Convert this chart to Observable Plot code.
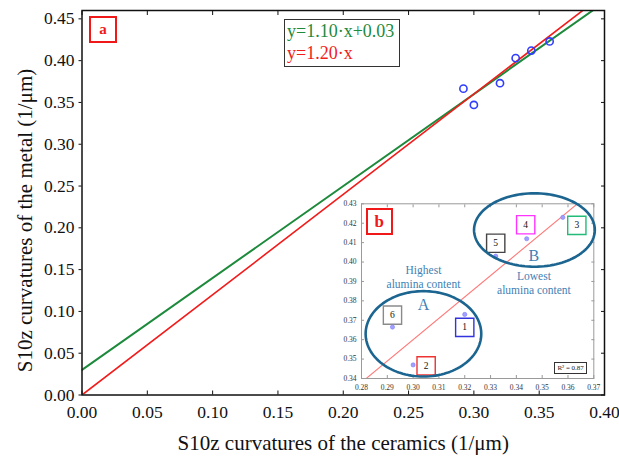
<!DOCTYPE html>
<html><head><meta charset="utf-8">
<script src="https://cdn.jsdelivr.net/npm/d3@7"></script>
<script src="https://cdn.jsdelivr.net/npm/@observablehq/plot@0.6"></script>
<style>
body{margin:0;background:#fff;}
#wrap{position:relative;width:619px;height:456px;font-family:"Liberation Serif","Times New Roman",serif;overflow:hidden;}
.ov{position:absolute;box-sizing:border-box;}
#inset{position:absolute;left:330px;top:190px;}
</style></head><body><div id="wrap"></div>
<script>
// ---- data ----
const sampleIds = ["6", "2", "1", "5", "4", "3"];
const ceramics  = [0.292, 0.300, 0.320, 0.332, 0.344, 0.358];
const metal     = [0.3665, 0.347, 0.373, 0.403, 0.412, 0.423];

const fitNames      = ["y=1.10·x+0.03", "y=1.20·x"];
const fitSlopes     = [1.10, 1.20];
const fitIntercepts = [0.03, 0.00];
const fitColors     = ["#1d8a3c", "#f21c1c"];

const xTicks = [0, 0.05, 0.10, 0.15, 0.20, 0.25, 0.30, 0.35, 0.40];
const yTicks = [0, 0.05, 0.10, 0.15, 0.20, 0.25, 0.30, 0.35, 0.40, 0.45];
const insetXTicks = [0.28, 0.29, 0.30, 0.31, 0.32, 0.33, 0.34, 0.35, 0.36, 0.37];
const insetYTicks = [0.34, 0.35, 0.36, 0.37, 0.38, 0.39, 0.40, 0.41, 0.42, 0.43];

const groupNames = ["A", "B"];
const groupCx = [0.304, 0.347];
const groupCy = [0.363, 0.4165];
const groupRx = [0.0224, 0.0234];
const groupRy = [0.0220, 0.0189];

const xLabel = "S10z curvatures of the ceramics (1/μm)";
const yLabel = "S10z curvatures of the metal (1/μm)";
const rSquared = "R² = 0.87";

// ---- derived tables ----
const points = sampleIds.map((id, i) => ({id, x: ceramics[i], y: metal[i]}));
const fmt2 = d3.format(".2f");
const serif = "'Liberation Serif', 'Times New Roman', serif";

const wrap = document.getElementById("wrap");

// ---- main chart ----
const fitMarks = fitNames.map((n, i) =>
  Plot.line([0, 0.40].map(x => ({x, y: fitSlopes[i] * x + fitIntercepts[i]})),
    {x: "x", y: "y", stroke: fitColors[i], strokeWidth: i === 0 ? 2 : 1.6, clip: true}));

const main = Plot.plot({
  width: 619, height: 456,
  marginLeft: 81.5, marginRight: 15, marginTop: 10, marginBottom: 61.5,
  style: {fontFamily: serif, fontSize: "17.5px", color: "#111", background: "white"},
  x: {domain: [0, 0.40]},
  y: {domain: [0, 0.46]},
  marks: [
    ...fitMarks,
    Plot.dot(points, {x: "x", y: "y", r: 3.6, stroke: "#2f3dff", strokeWidth: 1.6}),
    Plot.axisX({anchor: "bottom", ticks: xTicks, tickFormat: fmt2, tickSize: -4, tickPadding: 15, label: null, fontSize: 17.5}),
    Plot.axisX({anchor: "top", ticks: xTicks, tickFormat: () => "", tickSize: -4, label: null}),
    Plot.axisY({anchor: "left", ticks: yTicks, tickFormat: fmt2, tickSize: 3, tickPadding: 4.5, label: null, fontSize: 17.5}),
    Plot.axisY({anchor: "right", ticks: yTicks, tickFormat: () => "", tickSize: -4, label: null}),
    Plot.frame({stroke: "#111", strokeWidth: 1.5}),
    Plot.text([xLabel], {text: d => d, frameAnchor: "bottom", textAnchor: "middle", lineAnchor: "middle", dy: 48.5, fontSize: 21, fill: "#111"}),
    Plot.text([yLabel], {text: d => d, frameAnchor: "left", textAnchor: "middle", lineAnchor: "middle", rotate: -90, dx: -56.5, dy: 17.75, fontSize: 21, fill: "#111"})
  ]
});
wrap.appendChild(main);

// ---- inset chart ----
const ellipsePts = groupNames.flatMap((g, i) =>
  d3.range(0, 361, 3).map(a => ({
    g,
    x: groupCx[i] + groupRx[i] * Math.cos(a * Math.PI / 180),
    y: groupCy[i] + groupRy[i] * Math.sin(a * Math.PI / 180)
  })));

const boxColors = ["#8a8a8a", "#ee3333", "#3333dd", "#444444", "#ff33ff", "#22bb77"];
const boxDx = [0, 13, 0, 0, -1, 14];
const boxDy = [-12, 1, 13, -13, -14, 8];
const boxMarks = points.flatMap((p, i) => [
  Plot.dot([p], {x: "x", y: "y", symbol: "square", r: 10.3, fill: "white", stroke: boxColors[i], strokeWidth: 1.4, dx: boxDx[i], dy: boxDy[i]}),
  Plot.text([p], {x: "x", y: "y", text: "id", fontSize: 9.5, fill: "#111", dx: boxDx[i], dy: boxDy[i]})
]);

const noteText = ["Highest\nalumina content", "A", "B", "Lowest\nalumina content"];
const noteX = [0.304, 0.304, 0.3468, 0.3468];
const noteY = [0.3927, 0.3784, 0.4041, 0.3896];
const noteSize = [11.5, 16, 16, 11.5];
const notes = noteText.map((t, i) => ({t, x: noteX[i], y: noteY[i], s: noteSize[i]}));

const insetFitX = [0.28, 0.37];
const inset = Plot.plot({
  width: 280, height: 205,
  marginLeft: 31, marginRight: 16.7, marginTop: 13.3, marginBottom: 17,
  style: {fontFamily: serif, fontSize: "8px", color: "#333", background: "transparent"},
  x: {domain: [0.28, 0.37]},
  y: {domain: [0.34, 0.43]},
  marks: [
    Plot.frame({fill: "white", stroke: null}),
    Plot.line(insetFitX.map(x => ({x, y: fitSlopes[0] * x + fitIntercepts[0]})),
      {x: "x", y: "y", stroke: "#ff7a7a", strokeWidth: 1.1, clip: true}),
    Plot.axisX({anchor: "bottom", ticks: insetXTicks, tickFormat: fmt2, tickSize: -3, tickPadding: 9, stroke: "#999", label: null, fontSize: 7.5}),
    Plot.axisX({anchor: "top", ticks: insetXTicks, tickFormat: () => "", tickSize: -3, stroke: "#999", label: null}),
    Plot.axisY({anchor: "left", ticks: insetYTicks, tickFormat: fmt2, tickSize: -3, tickPadding: 8, stroke: "#999", label: null, fontSize: 7.5}),
    Plot.axisY({anchor: "right", ticks: insetYTicks, tickFormat: () => "", tickSize: -3, stroke: "#999", label: null}),
    Plot.frame({stroke: "#9a9a9a", strokeWidth: 1}),
    ...boxMarks,
    Plot.dot(points, {x: "x", y: "y", r: 2.1, fill: "#a0a0ff", stroke: "#7a7aff", strokeWidth: 0.6}),
    Plot.line(ellipsePts, {x: "x", y: "y", z: "g", stroke: "#1c6590", strokeWidth: 2.6}),
    Plot.text(notes, {x: "x", y: "y", text: "t", fontSize: d => d.s, lineHeight: 1.27, fill: "#3f7fb5"})
  ]
});
inset.id = "inset";
wrap.appendChild(inset);

// ---- panel labels, legend ----
function overlay(html, css) {
  const d = document.createElement("div");
  d.className = "ov";
  d.innerHTML = html;
  Object.assign(d.style, css);
  wrap.appendChild(d);
  return d;
}
overlay("a", {left: "89px", top: "16px", width: "28px", height: "27px", border: "2px solid #f01818",
  color: "#f01818", fontWeight: "bold", fontSize: "15px", display: "flex", alignItems: "center", justifyContent: "center"});
overlay("b", {left: "365.7px", top: "208.3px", width: "27px", height: "26.7px", border: "2.5px solid #f01818",
  color: "#f01818", fontWeight: "bold", fontSize: "17px", display: "flex", alignItems: "center", justifyContent: "center", background: "white"});
overlay(rSquared, {left: "554px", top: "362.3px", width: "33.3px", height: "11.7px", border: "1px solid #333",
  color: "#222", fontSize: "7px", display: "flex", alignItems: "center", justifyContent: "center", background: "white"});
overlay(fitNames.map((n, i) => `<div style="color:${fitColors[i]}">${n}</div>`).join(""),
  {left: "284px", top: "19px", width: "116px", height: "48px", border: "1.5px solid #333",
   fontSize: "18px", lineHeight: "22px", paddingLeft: "2px", background: "white", whiteSpace: "nowrap"});
</script>
</body></html>
